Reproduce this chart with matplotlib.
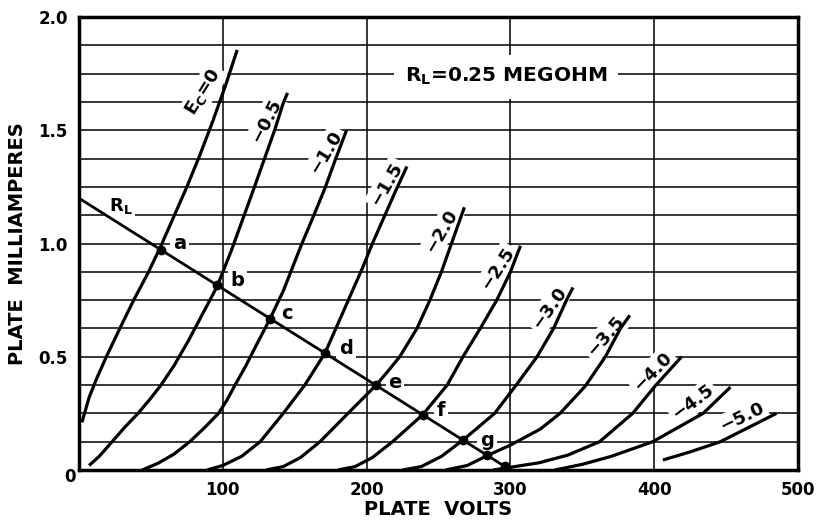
import numpy as np
from matplotlib import pyplot as plt

# Plate characteristic curves (plate volts, plate milliamperes)
v_ec0 = [2, 7, 12, 19, 28, 38, 48, 57, 66, 75, 84, 93, 102, 110]
i_ec0 = [0.21, 0.32, 0.40, 0.50, 0.62, 0.75, 0.87, 0.99, 1.12, 1.25, 1.39, 1.54, 1.70, 1.855]

v_m05 = [7, 14, 23, 32, 41, 49, 57, 66, 76, 86, 96, 106, 114, 122, 129, 136, 142, 145]
i_m05 = [0.02, 0.06, 0.125, 0.19, 0.25, 0.31, 0.375, 0.46, 0.57, 0.69, 0.81, 0.97, 1.11, 1.25, 1.375, 1.5, 1.62, 1.665]

v_m10 = [44, 55, 66, 77, 87, 97, 103, 108.5, 116, 124, 133, 142, 155, 163, 171, 178, 186]
i_m10 = [0, 0.03, 0.07, 0.125, 0.185, 0.25, 0.31, 0.375, 0.46, 0.56, 0.67, 0.79, 1.0, 1.12, 1.244, 1.366, 1.5]

v_m15 = [89, 100, 113, 126, 142, 157, 164, 171, 180, 189, 197, 204, 212, 220, 228]
i_m15 = [0, 0.02, 0.06, 0.125, 0.25, 0.375, 0.445, 0.516, 0.645, 0.775, 0.89, 1.0, 1.115, 1.23, 1.34]

v_m20 = [130, 142, 154, 167.6, 187, 206.5, 214, 223, 235, 244, 252, 259, 266, 268]
i_m20 = [0, 0.015, 0.055, 0.125, 0.25, 0.374, 0.43, 0.5, 0.625, 0.75, 0.875, 1.0, 1.125, 1.16]

v_m25 = [180, 192, 204, 218, 239, 256, 267, 279, 290.5, 300, 307]
i_m25 = [0, 0.015, 0.055, 0.125, 0.244, 0.375, 0.5, 0.625, 0.75, 0.875, 0.99]

v_m30 = [225, 238, 252, 267, 289, 304, 318.5, 330, 339, 343.5]
i_m30 = [0, 0.015, 0.06, 0.132, 0.25, 0.375, 0.5, 0.625, 0.75, 0.806]

v_m35 = [255, 270, 284, 300, 320.6, 334.5, 352, 366, 376.5, 383]
i_m35 = [0, 0.02, 0.064, 0.11, 0.18, 0.25, 0.37, 0.5, 0.625, 0.683]

v_m40 = [288, 300, 320, 340, 362, 385, 400.5, 419]
i_m40 = [0, 0.012, 0.032, 0.066, 0.125, 0.25, 0.37, 0.5]

v_m45 = [331, 350, 370, 399, 434, 453]
i_m45 = [0, 0.025, 0.06, 0.125, 0.25, 0.366]

v_m50 = [406, 425, 446, 485]
i_m50 = [0.044, 0.08, 0.125, 0.25]

# Grid bias labels, where they sit and how they lean
bias_labels = ["$E_C$=0", "\u22120.5", "\u22121.0", "\u22121.5", "\u22122.0", "\u22122.5",
               "\u22123.0", "\u22123.5", "\u22124.0", "\u22124.5", "\u22125.0"]
label_v = [86.5, 130, 172, 214, 252, 291, 327, 366, 399, 427, 461]
label_i = [1.67, 1.54, 1.405, 1.264, 1.053, 0.89, 0.714, 0.59, 0.436, 0.30, 0.233]
label_rot = [58, 63, 59, 60, 60, 57, 55, 49, 46, 37, 26]

# Load line R_L = 0.25 megohm, 300 V supply
load_v = [0, 300]
load_i = [1.2, 0]
point_v = [57, 96, 133, 171, 206.5, 239, 267, 284, 296]
point_names = ["a", "b", "c", "d", "e", "f", "g"]
name_v = [70, 110, 144.6, 185.7, 219.7, 251.7, 283.7]
name_i = [1.0, 0.837, 0.69, 0.537, 0.388, 0.264, 0.132]

plt.rcParams['font.family'] = 'DejaVu Sans'
plt.rcParams['font.weight'] = 'bold'
plt.rcParams['mathtext.fontset'] = 'custom'
plt.rcParams['mathtext.rm'] = 'DejaVu Sans:bold'
plt.rcParams['mathtext.it'] = 'DejaVu Sans:bold'
plt.rcParams['mathtext.default'] = 'rm'

fig = plt.figure(figsize=(8.18, 5.21), dpi=100)
ax = fig.add_axes([0.0966, 0.0979, 0.879, 0.8694])
ax.set_xlim(0, 500)
ax.set_ylim(0, 2.0)

# Grid: horizontal every 0.125 mA, vertical every 100 V
for y in np.arange(0.125, 2.0, 0.125):
    ax.axhline(y, color='black', lw=1.1, zorder=1)
for x in [100, 200, 300, 400]:
    ax.axvline(x, color='black', lw=1.1, zorder=1)

curves_v = [v_ec0, v_m05, v_m10, v_m15, v_m20, v_m25, v_m30, v_m35, v_m40, v_m45, v_m50]
curves_i = [i_ec0, i_m05, i_m10, i_m15, i_m20, i_m25, i_m30, i_m35, i_m40, i_m45, i_m50]
for vv, ii in zip(curves_v, curves_i):
    ax.plot(vv, ii, color='black', lw=2.3, solid_capstyle='butt', zorder=3)

white = dict(facecolor='white', edgecolor='none', pad=2)
for txt, x, y, r in zip(bias_labels, label_v, label_i, label_rot):
    ax.text(x, y, txt, rotation=r, fontsize=13, ha='center', va='center',
            rotation_mode='anchor', bbox=white, zorder=2)

# Load line and operating points
ax.plot(load_v, load_i, color='black', lw=2.0, zorder=3)
point_i = [1.2 - v / 250 for v in point_v]
ax.plot(point_v, point_i, 'o', color='black', ms=6, zorder=4)
for n, x, y in zip(point_names, name_v, name_i):
    ax.text(x, y, n, fontsize=14, ha='center', va='center', bbox=white, zorder=2)
ax.text(29, 1.167, "$R_L$", fontsize=13, ha='center', va='center', bbox=white, zorder=2)

ax.text(297, 1.736, "$R_L$=0.25 MEGOHM", fontsize=14.5, ha='center', va='center',
        bbox=dict(facecolor='white', edgecolor='none', boxstyle='square,pad=0.55'), zorder=2)

# Axes, ticks and labels
for s in ax.spines.values():
    s.set_linewidth(2.5)
    s.set_zorder(5)
ax.set_xticks([100, 200, 300, 400, 500])
ax.set_yticks([0.5, 1.0, 1.5, 2.0])
ax.set_yticklabels(["0.5", "1.0", "1.5", "2.0"])
ax.tick_params(length=0, labelsize=12, pad=8)
ax.text(-0.0125, -0.015, "0", transform=ax.transAxes, fontsize=12, ha='center', va='center')
ax.set_xlabel("PLATE  VOLTS", fontsize=14, fontweight='bold', labelpad=1)
ax.set_ylabel("PLATE  MILLIAMPERES", fontsize=14, fontweight='bold', labelpad=8)

fig.savefig("out.png", dpi=100)
